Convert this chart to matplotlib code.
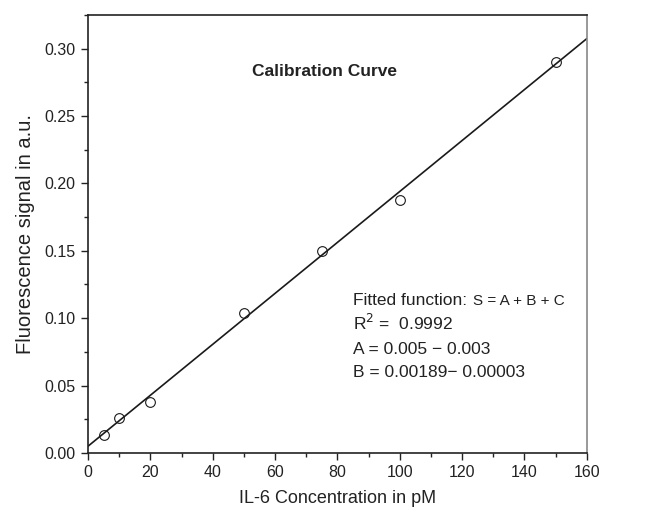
import matplotlib
matplotlib.use("Agg")
import matplotlib.pyplot as plt
import numpy as np
from matplotlib.ticker import MultipleLocator, FormatStrFormatter

plt.rcParams['font.family'] = ['Liberation Sans', 'DejaVu Sans']

conc = [5, 10, 20, 50, 75, 100, 150]
signal = [0.013, 0.026, 0.038, 0.104, 0.150, 0.188, 0.290]
intercept = 0.005
slope = 0.00189
fit_x = [0, 160]

fig = plt.figure(figsize=(6.47, 5.13), dpi=100)
ax = fig.add_axes([0.136, 0.117, 0.771, 0.854])

fx = np.array(fit_x, dtype=float)
ax.plot(fx, intercept + slope * fx, color='#1a1a1a', lw=1.2)
ax.plot(conc, signal, 'o', mfc='none', mec='#1a1a1a', ms=7, mew=0.8)

ax.set_xlim(0, 160)
ax.set_ylim(0, 0.325)
ax.xaxis.set_major_locator(MultipleLocator(20))
ax.xaxis.set_minor_locator(MultipleLocator(10))
ax.yaxis.set_major_locator(MultipleLocator(0.05))
ax.yaxis.set_minor_locator(MultipleLocator(0.025))
ax.yaxis.set_major_formatter(FormatStrFormatter('%.2f'))
ax.tick_params(which='both', direction='out', top=False, right=False,
               labelsize=11.5, colors='#222222', width=1.0)
ax.tick_params(which='major', length=5, pad=4)
ax.tick_params(which='minor', length=3)
for s in ['left', 'bottom', 'top']:
    ax.spines[s].set_color('#222222')
    ax.spines[s].set_linewidth(1.2)
ax.spines['right'].set_color('#888888')
ax.spines['right'].set_linewidth(1.2)

ax.set_xlabel('IL-6 Concentration in pM', fontsize=13, color='#222222', labelpad=7)
ax.set_ylabel('Fluorescence signal in a.u.', fontsize=14.5, color='#222222', labelpad=7)

ax.text(76, 0.283, 'Calibration Curve', fontsize=12.5, fontweight='bold',
        ha='center', va='center', color='#222222')

tx = 85.0
t1 = ax.text(tx, 0.1100, 'Fitted function:', fontsize=12.5, va='baseline', color='#222222')
ax.annotate('S = A + B + C', xy=(1, 0), xycoords=t1, xytext=(4, 0),
            textcoords='offset points', fontsize=11, va='bottom', color='#222222')
ax.text(tx, 0.0910, r'R$^2$ =  0.9992', fontsize=12.5, va='baseline', color='#222222')
ax.text(tx, 0.0735, 'A = 0.005 \u2212 0.003', fontsize=12.5, va='baseline', color='#222222')
ax.text(tx, 0.0560, 'B = 0.00189\u2212 0.00003', fontsize=12.5, va='baseline', color='#222222')

fig.savefig('out.png', dpi=100)
